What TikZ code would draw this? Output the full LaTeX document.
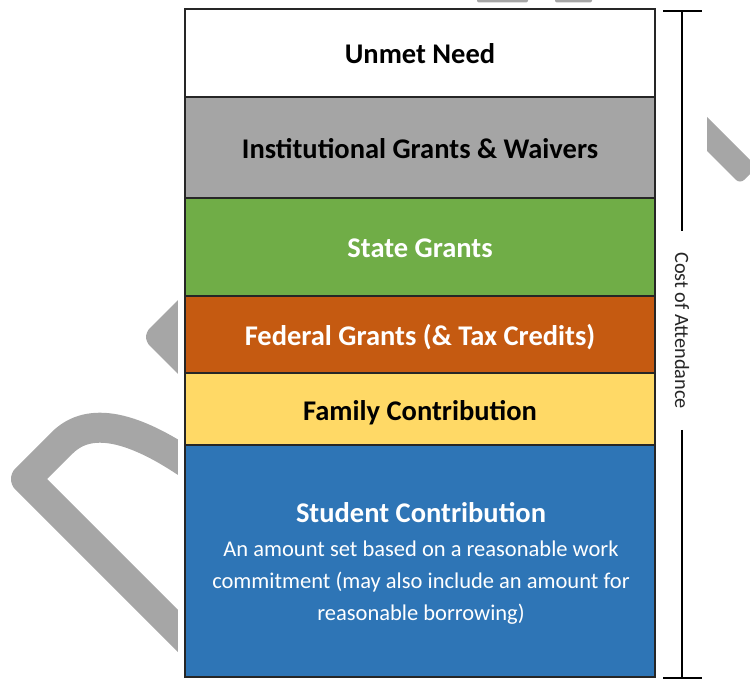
\documentclass[tikz,border=0pt]{standalone}
\usepackage{fontspec}
\setmainfont{Carlito}
\definecolor{wm}{HTML}{A6A6A6}
\definecolor{lgrey}{HTML}{A5A5A5}
\definecolor{lgreen}{HTML}{70AD47}
\definecolor{lorange}{HTML}{C55A11}
\definecolor{lyellow}{HTML}{FFD966}
\definecolor{lblue}{HTML}{2E75B6}
\definecolor{edge}{HTML}{262626}
\tikzset{
  layer/.style={draw=edge, line width=1.2pt, minimum width=470pt, inner sep=0pt, outer sep=0pt,
    anchor=north west, text height=22pt, text depth=0pt,
    font=\bfseries\fontsize{28.5}{30}\selectfont},
  bracket/.style={line width=2.2pt, black},
  wmark/.style={wm, line width=30pt, line join=round}
}
\begin{document}
\begin{tikzpicture}[x=1pt,y=-1pt]
\useasboundingbox (0,0) rectangle (750,679);
% watermark shapes
\draw[wmark] (200,653) -- (26,479) -- (62,443) .. controls (85,420) and (125,418) .. (200,472);
\fill[wm, rounded corners=5pt] (200,278) -- (146,332) -- (146,342) -- (200,396) -- cycle;
\fill[wm, rounded corners=6pt] (650,60) -- (757,167) -- (740,184) -- (650,94) -- cycle;
\fill[wm, rounded corners=2pt] (477,-10) rectangle (528,2.5);
\fill[wm, rounded corners=2pt] (555,-10) rectangle (592,2.5);
\fill[white] (178,3) rectangle (707,679);
% layers
\node[layer, fill=white, minimum height=88pt, text=black] (unmet) at (185,9) {Unmet Need};
\node[layer, fill=lgrey, minimum height=101pt, text=black] (inst) at (unmet.south west) {Institutional Grants \& Waivers};
\node[layer, fill=lgreen, minimum height=98pt, text=white] (state) at (inst.south west) {State Grants};
\node[layer, fill=lorange, minimum height=77pt, text=white] (fed) at (state.south west) {Federal Grants (\& Tax Credits)};
\node[layer, fill=lyellow, minimum height=72pt, text=black] (fam) at (fed.south west) {Family Contribution};
\node[layer, fill=lblue, minimum height=232pt] (stud) at (fam.south west) {};
\node[anchor=base, text=white, font=\bfseries\fontsize{28.5}{30}\selectfont, inner sep=0pt] (studtitle) at (421,522) {Student Contribution};
\node[anchor=north, text=white, align=center, inner sep=0pt, font=\fontsize{22.5}{32}\selectfont] (studtext) at (421,541)
  {An amount set based on a reasonable work\\commitment (may also include an amount for\\reasonable borrowing)};
% bracket
\coordinate (ctop) at (682,11);
\coordinate (cbot) at (682,678);
\coordinate (ctl) at (663,11);
\coordinate (ctr) at (702,11);
\coordinate (cbl) at (663,678);
\coordinate (cbr) at (702,678);
\node[rotate=-90, inner xsep=21pt, inner ysep=0pt, outer sep=0pt, text=black!85, font=\fontsize{20.3}{24}\selectfont] (coa) at (682,330.5) {Cost of Attendance};
\draw[bracket] (ctl) -- (ctr);
\draw[bracket] (cbl) -- (cbr);
\draw[bracket] (ctop) -- (coa.west);
\draw[bracket] (coa.east) -- (cbot);
\end{tikzpicture}
\end{document}
